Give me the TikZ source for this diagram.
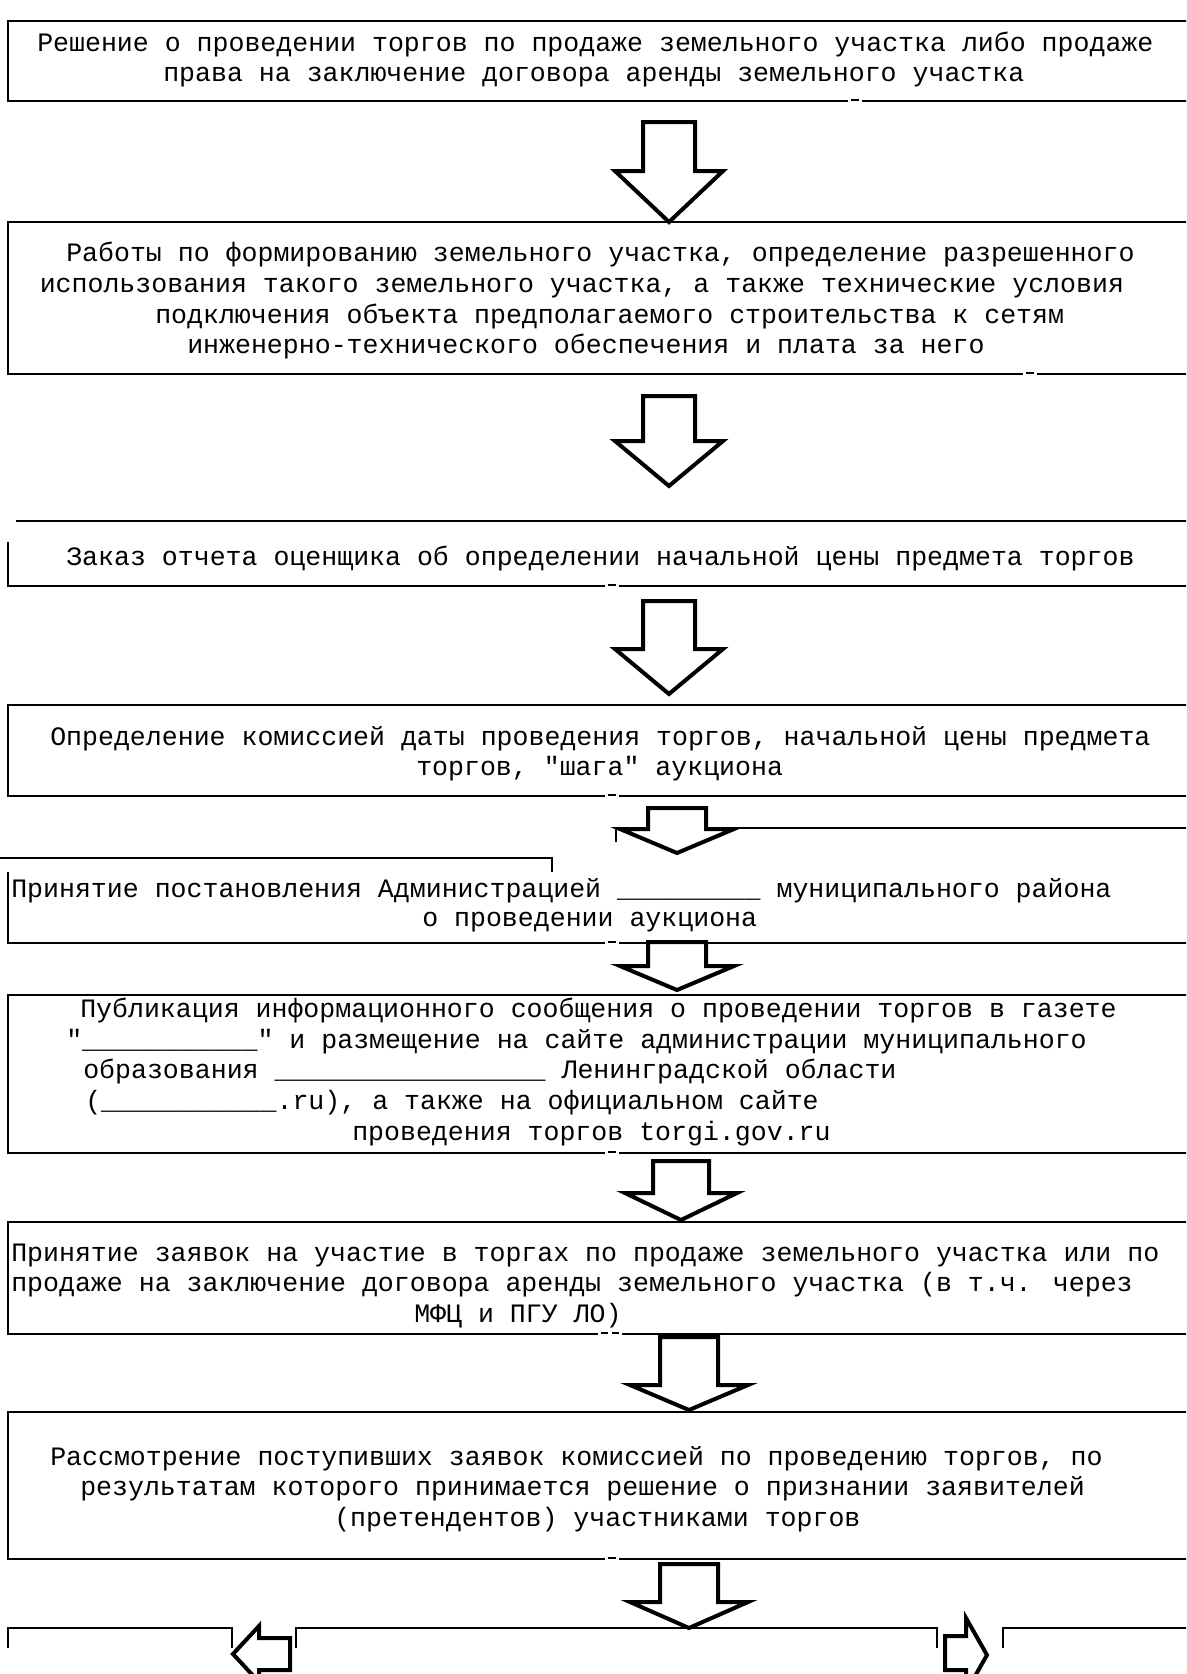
\documentclass[tikz,border=0pt]{standalone}
\usepackage{fontspec}
\newfontfamily\cour{Liberation Mono}
\begin{document}
\begin{tikzpicture}[x=0.75pt,y=-0.75pt,
  boxline/.style={line width=1.5pt},
  dashmark/.style={line width=1.2pt},
  blockarrow/.style={line width=3pt,draw=black,fill=white,miter limit=20},
  txt/.style={font=\cour\fontsize{19.93}{24}\selectfont,inner sep=0pt,anchor=base west}]
\clip (0,0) rectangle (1186,1674);
\fill[white] (0,0) rectangle (1186,1674);
\newcommand{\fullbox}[3]{%
  \draw[boxline] (1195,#1) -- (7.5,#1) -- (7.5,#2) -- ({#3-7},#2);
  \draw[boxline] ({#3+7},#2) -- (1195,#2);
  \draw[dashmark] ({#3-4},{#2-1}) -- ({#3+4},{#2-1});}
\newcommand{\downarr}[6]{%
  \draw[blockarrow] ({#1-#2},#3) -- ({#1+#2},#3) -- ({#1+#2},#4) -- ({#1+#5},#4)
    -- (#1,#6) -- ({#1-#5},#4) -- ({#1-#2},#4) -- cycle;}
% boxes
\fullbox{21}{101}{855}
\fullbox{222}{374}{1030}
\draw[boxline] (16,521) -- (1195,521);
\draw[boxline] (7.5,542) -- (7.5,586) -- (605,586);
\draw[boxline] (619,586) -- (1195,586);
\draw[dashmark] (608,585) -- (616,585);
\fullbox{705}{796}{612}
% box 5 split top
\draw[boxline] (0,858) -- (552,858) -- (552,872);
\draw[boxline] (616,842) -- (616,828) -- (1195,828);
\draw[boxline] (7.5,872) -- (7.5,943) -- (605,943);
\draw[boxline] (619,943) -- (1195,943);
\draw[dashmark] (608,942) -- (616,942);
\fullbox{995}{1153}{612}
% box 7 with double dash
\draw[boxline] (1195,1222) -- (7.5,1222) -- (7.5,1334) -- (598,1334);
\draw[boxline] (622,1334) -- (1195,1334);
\draw[dashmark] (601,1333) -- (608,1333);
\draw[dashmark] (612,1333) -- (619,1333);
\fullbox{1412}{1559}{612}
% bottom row
\draw[boxline] (7.5,1648) -- (7.5,1628) -- (232,1628) -- (232,1648);
\draw[boxline] (296,1648) -- (296,1628) -- (937,1628) -- (937,1648);
\draw[boxline] (1003,1648) -- (1003,1628) -- (1195,1628);
% block arrows
\downarr{669}{26}{122}{171}{54}{222}
\downarr{669}{26}{396}{441}{54}{486}
\downarr{669}{26}{601}{649}{54}{694}
\downarr{677}{29}{808}{829}{57}{853}
\downarr{677}{29}{942}{966}{57}{990}
\downarr{681}{28}{1161}{1193}{56}{1220}
\downarr{689}{29}{1337}{1385}{59}{1410}
\downarr{689}{29}{1564}{1602}{59}{1628}
\draw[blockarrow] (233,1654) -- (259,1626) -- (259,1638) -- (290,1638) -- (290,1670)
  -- (259,1670) -- (259,1682) -- cycle;
\draw[blockarrow] (987,1655) -- (966,1618) -- (966,1636) -- (945,1636) -- (945,1670)
  -- (966,1670) -- (966,1692) -- cycle;
% texts
\node[txt] (b1a) at (37,51.5) {Решение о проведении торгов по продаже земельного участка либо продаже};
\node[txt] (b1b) at (163,81.5) {права на заключение договора аренды земельного участка};
\node[txt] (b2a) at (66,261.5) {Работы по формированию земельного участка, определение разрешенного};
\node[txt] (b2b) at (39.5,292.5) {использования такого земельного участка, а также технические условия};
\node[txt] (b2c) at (155,323.5) {подключения объекта предполагаемого строительства к сетям};
\node[txt] (b2d) at (187,353.5) {инженерно-технического обеспечения и плата за него};
\node[txt] (b3a) at (66,565.5) {Заказ отчета оценщика об определении начальной цены предмета торгов};
\node[txt] (b4a) at (50,745.5) {Определение комиссией даты проведения торгов, начальной цены предмета};
\node[txt] (b4b) at (416,775.5) {торгов, "шага" аукциона};
\node[txt] (b5a) at (11,897.5) {Принятие постановления Администрацией \_\_\_\_\_\_\_\_\_ муниципального района};
\node[txt] (b5b) at (422,926.5) {о проведении аукциона};
\node[txt] (b6a) at (80,1017.5) {Публикация информационного сообщения о проведении торгов в газете};
\node[txt] (b6b) at (66,1048.5) {"\_\_\_\_\_\_\_\_\_\_\_" и размещение на сайте администрации муниципального};
\node[txt] (b6c) at (83,1078.5) {образования \_\_\_\_\_\_\_\_\_\_\_\_\_\_\_\_\_ Ленинградской области};
\node[txt] (b6d) at (85,1109.5) {(\_\_\_\_\_\_\_\_\_\_\_.ru), а также на официальном сайте};
\node[txt] (b6e) at (352,1140.5) {проведения торгов torgi.gov.ru};
\node[txt] (b7a) at (11,1261.5) {Принятие заявок на участие в торгах по продаже земельного участка или по};
\node[txt] (b7b) at (11,1291.5) {продаже на заключение договора аренды земельного участка (в т.ч. через};
\node[txt] (b7c) at (414,1322.5) {МФЦ и ПГУ ЛО)};
\node[txt] (b8a) at (50,1465.5) {Рассмотрение поступивших заявок комиссией по проведению торгов, по};
\node[txt] (b8b) at (80,1495.5) {результатам которого принимается решение о признании заявителей};
\node[txt] (b8c) at (334,1526.5) {(претендентов) участниками торгов};
\end{tikzpicture}
\end{document}
